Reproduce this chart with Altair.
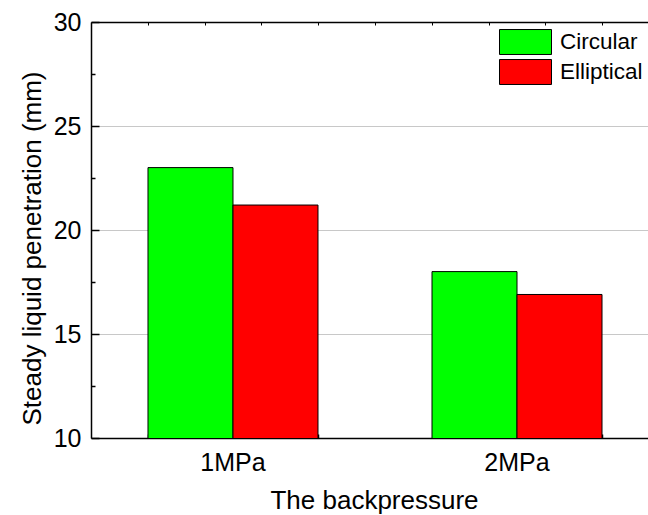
import altair as alt
import pandas as pd

# ---- data ----
pressures = ["1MPa", "2MPa"]
shapes = ["Circular", "Elliptical"]
circular = [23.0, 18.0]
elliptical = [21.2, 16.9]
colors = ["#00ff00", "#ff0000"]
y_major = [10, 15, 20, 25, 30]
y_minor = [12.5, 17.5, 22.5, 27.5]
top_ticks = [0.7, 0.9, 1.1, 1.3, 1.5, 1.7, 1.9, 2.1, 2.3]

rows = []
for i, p in enumerate(pressures):
    rows.append({"pressure": p, "shape": shapes[0], "value": circular[i]})
    rows.append({"pressure": p, "shape": shapes[1], "value": elliptical[i]})
df = pd.DataFrame(rows)
tdf = pd.DataFrame({"t": top_ticks})

W, H = 557, 416
STEP = 284.0
FONT = "Liberation Sans"

xscale = alt.Scale(domain=pressures, paddingInner=0.4014, paddingOuter=0.1813, align=0.5534)
yscale = alt.Scale(domain=[10, 30], nice=False, zero=False)

bars = alt.Chart(df).mark_bar(stroke="black", strokeWidth=1, opacity=1, clip=True).encode(
    x=alt.X(
        "pressure:N",
        scale=xscale,
        axis=alt.Axis(
            orient="bottom", title="The backpressure", labelAngle=0,
            labelFont=FONT, labelFontSize=25, labelColor="black",
            ticks=False, tickSize=0, labelPadding=12,
            domain=True, domainColor="black", domainWidth=1.5, grid=False,
            titleFont=FONT, titleFontSize=26, titleFontWeight="normal", titleColor="black",
            titleX=283, titleY=70, titleBaseline="alphabetic",
        ),
    ),
    xOffset=alt.XOffset("shape:N", scale=alt.Scale(domain=shapes, paddingInner=0, paddingOuter=0)),
    y=alt.Y(
        "value:Q",
        scale=yscale,
        axis=alt.Axis(
            orient="left", values=y_major, title="Steady liquid penetration (mm)",
            ticks=False, tickSize=0, labelPadding=10,
            labelFont=FONT, labelFontSize=25, labelColor="black",
            titleFont=FONT, titleFontSize=26, titleFontWeight="normal", titleColor="black",
            titleX=-51, titleY=226, titleBaseline="alphabetic",
            grid=True, gridColor="#c8c8c8", gridWidth=1,
            domain=True, domainColor="black", domainWidth=1.5,
        ),
    ),
    color=alt.Color(
        "shape:N",
        scale=alt.Scale(domain=shapes, range=colors),
        legend=alt.Legend(
            title=None, orient="none", legendX=421, legendY=6.5,
            symbolType="M-2,-0.96H2V0.96H-2Z", symbolSize=676,
            symbolStrokeColor="black", symbolStrokeWidth=1, symbolOpacity=1,
            labelFont=FONT, labelFontSize=22.5, labelColor="black",
            labelOffset=21, rowPadding=1, padding=0,
        ),
    ),
)

ymaj = alt.Chart(df).mark_point(opacity=0).encode(
    x=alt.X("pressure:N", scale=xscale, axis=None),
    y=alt.Y("value:Q", scale=yscale, axis=alt.Axis(
        orient="right", offset=-W, values=y_major, labels=False, domain=False,
        grid=False, ticks=True, tickSize=8, tickColor="black", tickWidth=1.5, title=None)),
)

ymin = alt.Chart(df).mark_point(opacity=0).encode(
    x=alt.X("pressure:N", scale=xscale, axis=None),
    y=alt.Y("value:Q", scale=yscale, axis=alt.Axis(
        orient="right", offset=-W, values=y_minor, labels=False, domain=False,
        grid=False, ticks=True, tickSize=4, tickColor="black", tickWidth=1.5, title=None)),
)

xin = alt.Chart(df).mark_point(opacity=0).encode(
    x=alt.X("pressure:N", scale=xscale, axis=alt.Axis(
        orient="top", offset=-H, tickBand="extent", labels=False, domain=False,
        grid=False, ticks=True, tickSize=4, tickColor="black", tickWidth=1.5, title=None)),
    y=alt.Y("value:Q", scale=yscale, axis=None),
)

top = alt.Chart(tdf).mark_point(opacity=0).encode(
    x=alt.X("t:Q", scale=alt.Scale(domain=[0.5, 0.5 + W / STEP], nice=False, zero=False),
            axis=alt.Axis(orient="bottom", offset=-H, values=top_ticks, labels=False,
                          domain=True, domainColor="black", domainWidth=1.5,
                          ticks=True, tickSize=3, tickColor="black", tickWidth=1,
                          grid=False, title=None)),
)

chart = (
    alt.layer(bars, ymaj, ymin, xin, top)
    .resolve_scale(x="independent")
    .resolve_axis(x="independent", y="independent")
    .properties(
        width=W, height=H,
        autosize=alt.AutoSizeParams(type="none"),
        padding={"left": 91, "top": 22, "right": 0, "bottom": 77},
        background="white",
    )
    .configure_view(stroke=None)
)

chart.save("out.html", embed_options={"renderer": "svg", "actions": False})
